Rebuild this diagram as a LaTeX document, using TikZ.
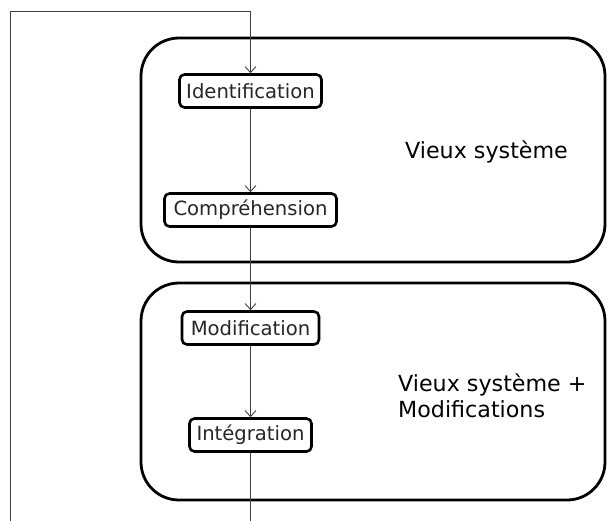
\documentclass[tikz,border=0pt]{standalone}
\usepackage{fontspec}
\setmainfont{DejaVu Sans}
\usetikzlibrary{arrows.meta}
\begin{document}
\begin{tikzpicture}[x=1pt,y=-1pt,
  stepbox/.style={draw=black, line width=2.6pt, rounded corners=5pt, fill=white,
    font=\fontsize{19.6}{22}\selectfont, inner sep=0pt, minimum height=33pt, text=black!85},
  group/.style={draw=black, line width=2.8pt, rounded corners=38pt},
  flow/.style={draw=black!75, line width=0.9pt, -{Straight Barb[length=6pt,width=11pt]}},
  lbl/.style={font=\fontsize{22.2}{26}\selectfont, align=left, anchor=west, inner sep=0pt}]
\useasboundingbox (0,0) rectangle (607,520);
\draw[group] (141,38) rectangle (605,262);
\draw[group] (141,283) rectangle (605,500);
\node[stepbox, minimum width=142pt] (ident) at (250.5,91) {Identification};
\node[stepbox, minimum width=172pt] (compr) at (250.5,210) {Compréhension};
\node[stepbox, minimum width=137pt] (modif) at (250.5,328) {Modification};
\node[stepbox, minimum width=122pt] (integ) at (250.5,435) {Intégration};
\node[lbl] (old) at (405,152) {Vieux système};
\node[lbl] (oldmod) at (398,396) {Vieux système +\\Modifications};
\coordinate (b1) at (250.5,540);
\coordinate (b2) at (10,540);
\coordinate (t1) at (10,11);
\coordinate (t2) at (250.5,11);
\draw[flow] (ident) -- (compr);
\draw[flow] (compr) -- (modif);
\draw[flow] (modif) -- (integ);
\draw[flow] (integ) -- (b1) -- (b2) -- (t1) -- (t2) -- (ident);
\end{tikzpicture}
\end{document}
